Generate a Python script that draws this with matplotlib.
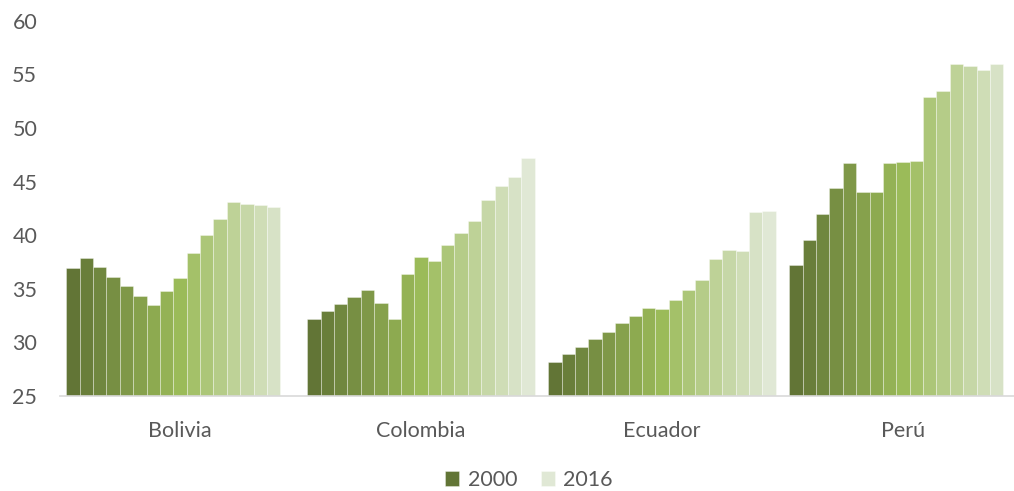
import numpy as np
import matplotlib
matplotlib.use("Agg")
import matplotlib.pyplot as plt
from matplotlib.colors import to_rgb

# Indicator by country, one bar per year 2000-2016
countries = ["Bolivia", "Colombia", "Ecuador", "Perú"]
years = list(range(2000, 2017))

bolivia = [36.9, 37.9, 37.05, 36.1, 35.25, 34.3, 33.45, 34.75, 36.0, 38.35,
           40.0, 41.5, 43.1, 42.9, 42.8, 42.6, np.nan]
colombia = [32.2, 32.9, 33.6, 34.2, 34.9, 33.65, 32.2, 36.4, 38.0, 37.6,
            39.1, 40.2, 41.35, 43.3, 44.6, 45.4, 47.25]
ecuador = [28.2, 28.9, 29.6, 30.35, 31.0, 31.8, 32.45, 33.2, 33.15, 33.95,
           34.9, 35.8, 37.8, 38.6, 38.5, 42.2, 42.3]
peru = [37.25, 39.6, 41.95, 44.4, 46.75, 44.0, 44.0, 46.7, 46.8, 46.9,
        52.9, 53.5, 55.95, 55.8, 55.45, 56.0, np.nan]

values = np.array([bolivia, colombia, ecuador, peru])

# olive gradient: dark shade -> accent green -> light tint
dark = np.array(to_rgb("#627536"))
mid = np.array(to_rgb("#9bbb59"))
light = np.array(to_rgb("#e0e8d5"))
n = len(years)
colors = []
for j in range(n):
    if j <= 8:
        t = j / 8
        colors.append(tuple(dark + (mid - dark) * t))
    else:
        t = (j - 8) / (n - 1 - 8)
        colors.append(tuple(mid + (light - mid) * t))

plt.rcParams["font.family"] = ["Lato", "DejaVu Sans"]
text_color = "#595959"
fsize = 15.5

fig = plt.figure(figsize=(10.14, 4.91), dpi=100)
ax = fig.add_axes([59.5 / 1014, 0.1935, 964 / 1014, 0.764])

x = np.arange(len(countries))
w = 1 / (n + 1)
bars = []
for j, year in enumerate(years):
    b = ax.bar(x + (j - (n - 1) / 2) * w, values[:, j], width=w,
               bottom=0, color=colors[j], edgecolor=(1, 1, 1, 0.4),
               linewidth=0.6, label=str(year))
    bars.append(b)

ax.set_ylim(25, 60)
ax.set_xlim(-0.5, len(countries) - 0.5)
ax.set_yticks(range(25, 61, 5))
ax.set_xticks(x)
ax.set_xticklabels(countries)

for side in ["top", "right", "left"]:
    ax.spines[side].set_visible(False)
ax.spines["bottom"].set_color("#d9d9d9")
ax.spines["bottom"].set_linewidth(1.2)

ax.tick_params(axis="y", length=0, pad=16, labelsize=fsize, labelcolor=text_color)
ax.tick_params(axis="x", length=0, pad=18, labelsize=fsize, labelcolor=text_color)

fig.legend([bars[0], bars[-1]], ["2000", "2016"], loc="center",
           bbox_to_anchor=(529 / 1014, 1 - 480 / 491), ncol=2, frameon=False,
           fontsize=fsize, labelcolor=text_color, handlelength=0.65,
           handleheight=0.65, handletextpad=0.4, columnspacing=1.1)

fig.savefig("out.png", dpi=100)
